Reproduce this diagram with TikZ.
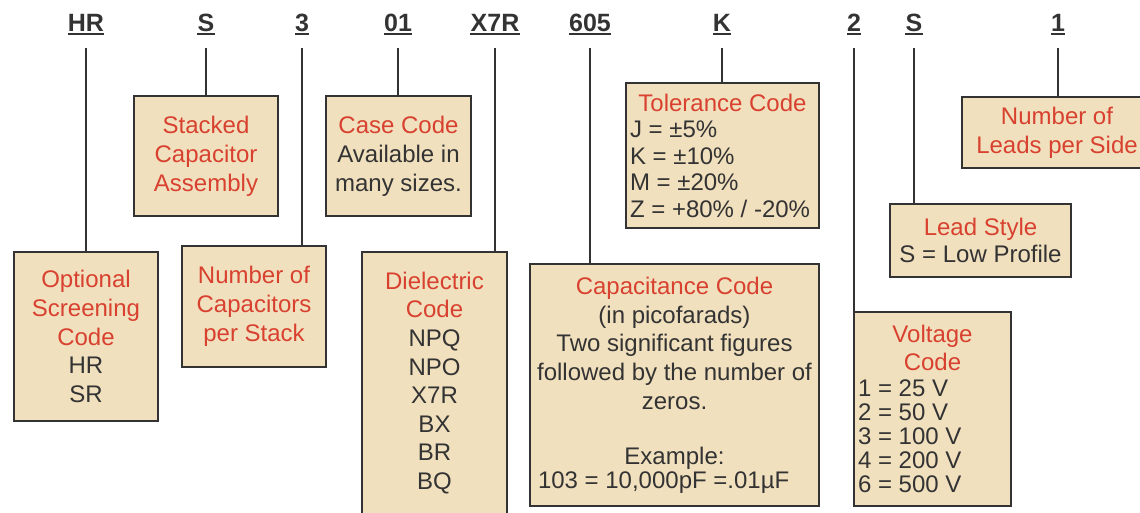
\documentclass[tikz,border=0pt]{standalone}
\usepackage{fontspec}
\setmainfont{Liberation Sans}
\definecolor{boxfill}{HTML}{F1E0BE}
\definecolor{hdred}{HTML}{D8412F}
\definecolor{ink}{HTML}{333333}
\newcommand{\hd}[1]{\textcolor{hdred}{#1}}
\newcommand{\fs}[1]{\fontsize{24}{#1}\selectfont}
\begin{document}
\begin{tikzpicture}[x=1pt,y=-1pt,
  box/.style={draw=ink, line width=1.5pt, fill=boxfill, inner sep=0pt, align=center, text=ink},
  code/.style={inner sep=0pt, anchor=base, text depth=0pt, font=\fontsize{25}{30}\selectfont\bfseries, text=ink},
  conn/.style={draw=ink, line width=1.5pt},
  uline/.style={draw=ink, line width=2pt}]
\useasboundingbox (0,0) rectangle (1140,513);
\clip (0,0) rectangle (1140,513);

% boxes
\node[box, minimum width=144pt, minimum height=169pt, font=\fs{28.75}] (opt) at (86,336.5)
  {\hd{Optional}\\\hd{Screening}\\\hd{Code}\\HR\\SR};
\node[box, minimum width=144pt, minimum height=120pt, font=\fs{29}] (stk) at (206,156)
  {\hd{Stacked}\\\hd{Capacitor}\\\hd{Assembly}};
\node[box, minimum width=144pt, minimum height=121pt, font=\fs{29}] (ncap) at (254,306.5)
  {\hd{Number of}\\\hd{Capacitors}\\\hd{per Stack}};
\node[box, minimum width=145pt, minimum height=120pt, font=\fs{29}] (case) at (398.5,156)
  {\hd{Case Code}\\Available in\\many sizes.};
\node[box, minimum width=145pt, minimum height=262pt, font=\fs{28.6}] (diel) at (434.5,383)
  {\hd{Dielectric}\\\hd{Code}\\NPQ\\NPO\\X7R\\BX\\BR\\BQ};
\node[box, minimum width=289pt, minimum height=242pt, font=\fs{28.75}] (cap) at (674.5,385)
  {\hd{Capacitance Code}\\(in picofarads)\\Two significant figures\\followed by the number of\\zeros.\\[26pt]Example:\\[-4.75pt]\makebox[273pt][l]{103 = 10,000pF =.01µF}};
\node[box, minimum width=193pt, minimum height=145pt, font=\fs{26.5}] (tol) at (722.5,155.5)
  {\hd{Tolerance Code}\\\makebox[185pt][l]{J = ±5\%}\\\makebox[185pt][l]{K = ±10\%}\\\makebox[185pt][l]{M = ±20\%}\\\makebox[185pt][l]{Z = +80\% / -20\%}};
\node[box, minimum width=157pt, minimum height=194pt, font=\fs{24}] (volt) at (932.5,409)
  {\hd{Voltage}\\[4pt]\hd{Code}\\[2pt]\makebox[149pt][l]{1 = 25 V}\\\makebox[149pt][l]{2 = 50 V}\\\makebox[149pt][l]{3 = 100 V}\\\makebox[149pt][l]{4 = 200 V}\\\makebox[149pt][l]{6 = 500 V}};
\node[box, minimum width=181pt, minimum height=73pt, font=\fs{27}] (lead) at (980.5,240.5)
  {\hd{Lead Style}\\S = Low Profile};
\node[box, minimum width=190pt, minimum height=71pt, font=\fs{29}] (nlead) at (1057,132.5)
  {\hd{Number of}\\\hd{Leads per Side}};

% code letters
\node[code] (lHR) at (86,32) {HR};
\node[code] (lS1) at (206,32) {S};
\node[code] (l3) at (302,32) {3};
\node[code] (l01) at (398,32) {01};
\node[code] (lX7R) at (495,32) {X7R};
\node[code] (l605) at (590,32) {605};
\node[code] (lK) at (722,32) {K};
\node[code] (l2) at (854,32) {2};
\node[code] (lS2) at (914,32) {S};
\node[code] (l1) at (1058,32) {1};

\foreach \n in {lHR,lS1,l3,l01,lX7R,l605,lK,l2,lS2,l1}
  \draw[uline] ([yshift=-2.5pt]\n.base west) -- ([yshift=-2.5pt]\n.base east);

% connectors
\draw[conn] ([yshift=-16pt]lHR.south) -- (lHR.south |- opt.north);
\draw[conn] ([yshift=-16pt]lS1.south) -- (lS1.south |- stk.north);
\draw[conn] ([yshift=-16pt]l3.south) -- (l3.south |- ncap.north);
\draw[conn] ([yshift=-16pt]l01.south) -- (l01.south |- case.north);
\draw[conn] ([yshift=-16pt]lX7R.south) -- (lX7R.south |- diel.north);
\draw[conn] ([yshift=-16pt]l605.south) -- (l605.south |- cap.north);
\draw[conn] ([yshift=-16pt]lK.south) -- (lK.south |- tol.north);
\draw[conn] ([yshift=-16pt]l2.south) -- (l2.south |- volt.north);
\draw[conn] ([yshift=-16pt]lS2.south) -- (lS2.south |- lead.north);
\draw[conn] ([yshift=-16pt]l1.south) -- (l1.south |- nlead.north);
\end{tikzpicture}
\end{document}
